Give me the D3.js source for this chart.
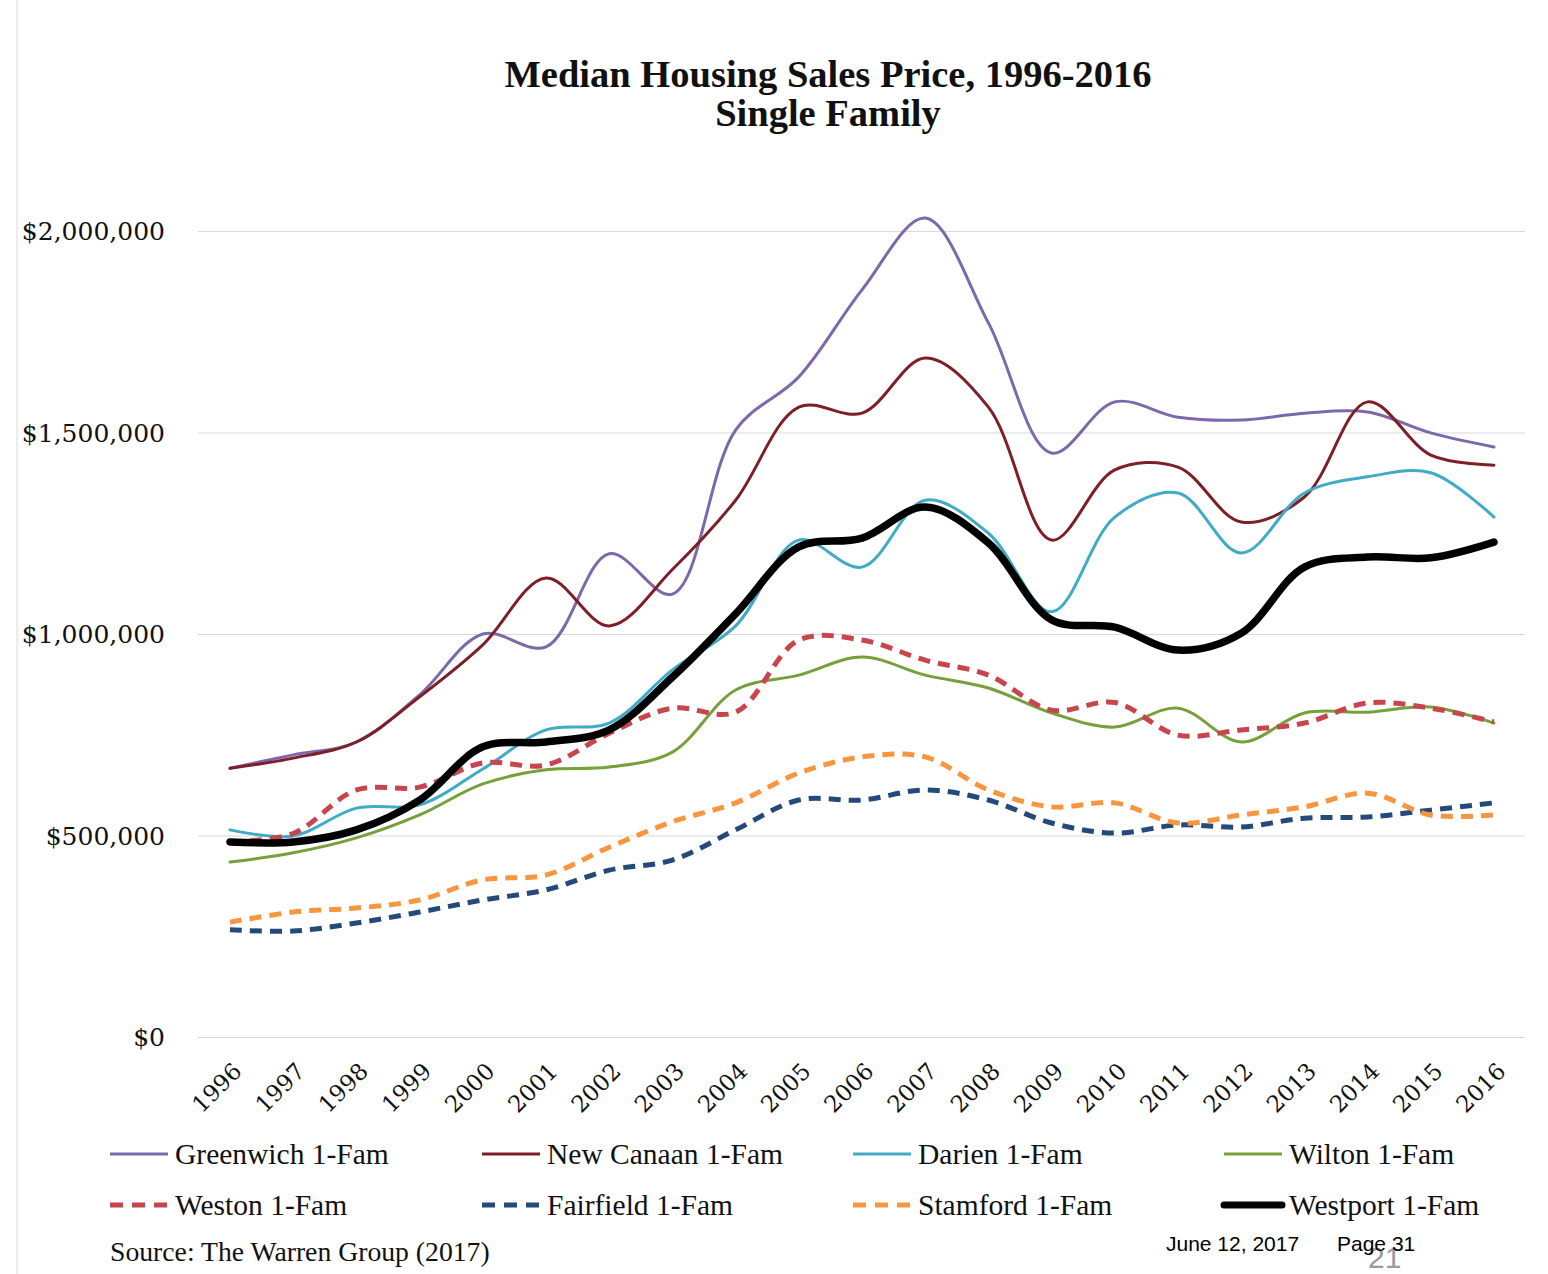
<!DOCTYPE html>
<html><head><meta charset="utf-8">
<script src="https://cdn.jsdelivr.net/npm/d3@7"></script>
<style>body{margin:0;background:#fff}</style>
</head><body>
<svg id="c" width="1548" height="1274"></svg>
<script>
const years = d3.range(1996, 2017);
const yTicks = [0, 500000, 1000000, 1500000, 2000000];
const greenwich = [667,700,732,849,1000,968,1199,1099,1506,1638,1854,2032,1772,1449,1576,1538,1531,1548,1551,1499,1464];
const newCanaan = [667,692,732,844,973,1139,1020,1160,1332,1563,1548,1685,1563,1233,1407,1414,1278,1340,1576,1444,1419];
const darien    = [514,499,568,576,665,762,779,911,1020,1233,1166,1332,1250,1055,1290,1350,1201,1350,1390,1400,1290];
const wilton    = [434,457,494,551,628,663,670,707,861,898,943,898,866,804,769,816,732,804,806,819,779];
const weston    = [485,505,613,620,680,675,754,816,806,985,985,935,898,811,830,749,762,779,829,816,782];
const fairfield = [266,263,283,310,340,365,414,439,514,588,588,613,588,531,506,526,521,543,546,563,581];
const stamford  = [285,310,320,340,390,402,471,534,581,655,695,695,613,571,581,531,551,571,605,551,551];
const westport  = [484,484,514,588,720,732,762,893,1050,1216,1238,1315,1226,1035,1017,960,1002,1166,1191,1189,1228];
const seriesNames = ["Greenwich 1-Fam","New Canaan 1-Fam","Darien 1-Fam","Wilton 1-Fam","Weston 1-Fam","Fairfield 1-Fam","Stamford 1-Fam","Westport 1-Fam"];
const seriesData = [greenwich,newCanaan,darien,wilton,weston,fairfield,stamford,westport];
const colors = ["#7c68aa","#7e1f27","#3fabc6","#76a03a","#c9454d","#24497a","#f7963f","#000000"];
const dashed = [false,false,false,false,true,true,true,false];
const widths = [3,3,3,3,5,5,5,7.5];

const svg = d3.select("#c");
const serif = "'DejaVu Serif', serif";
const cond = "'Liberation Serif', serif";

// faint page border
svg.append("line").attr("x1",17).attr("x2",17).attr("y1",0).attr("y2",1274).attr("stroke","#e6e6e6").attr("stroke-width",1.5);

const x = d3.scalePoint().domain(years).range([230,1494]);
const y = d3.scaleLinear().domain([0,2000000]).range([1037,231]);

// title
svg.append("text").attr("x",828).attr("y",87).attr("text-anchor","middle")
  .attr("font-family",cond).attr("font-weight","bold").attr("font-size",38.5).attr("fill","#111")
  .text("Median Housing Sales Price, 1996-2016");
svg.append("text").attr("x",828).attr("y",126).attr("text-anchor","middle")
  .attr("font-family",cond).attr("font-weight","bold").attr("font-size",38.5).attr("fill","#111")
  .text("Single Family");

// grid + y axis
const yAxis = d3.axisLeft(y).tickValues(yTicks).tickSize(-(1525-198))
  .tickFormat(d => d3.format("$,")(d));
const gy = svg.append("g").attr("transform","translate(198,0)").call(yAxis);
gy.select(".domain").remove();
gy.selectAll(".tick line").attr("stroke","#d9d9d9").attr("stroke-width",1.2);
gy.selectAll(".tick text").attr("x",-33).attr("dy","0.35em")
  .attr("font-family",serif).attr("font-size",25).attr("fill","#111");

// x axis
const xAxis = d3.axisBottom(x).tickSize(0);
const gx = svg.append("g").attr("transform","translate(0,1045)").call(xAxis);
gx.select(".domain").remove();
gx.selectAll(".tick text").attr("text-anchor","end")
  .attr("transform","translate(7,22) rotate(-45)")
  .attr("dy","0.35em").attr("y",0)
  .attr("font-family",serif).attr("font-size",23).attr("fill","#111");

// lines
const line = d3.line().x((d,i)=>x(years[i])).y(d=>y(d*1000)).curve(d3.curveCatmullRom.alpha(0.5));
seriesData.forEach((s,k)=>{
  svg.append("path").datum(s).attr("d",line).attr("fill","none")
    .attr("stroke",colors[k]).attr("stroke-width",widths[k])
    .attr("stroke-dasharray",dashed[k]?"12,8":null)
    .attr("stroke-linejoin","round").attr("stroke-linecap",dashed[k]?"butt":"round");
});

// legend
const legX = [110,482,853,1224];
const legY = [1154,1205];
seriesNames.forEach((n,k)=>{
  const lx = legX[k%4], ly = legY[Math.floor(k/4)];
  svg.append("line").attr("x1",lx).attr("x2",lx+58).attr("y1",ly).attr("y2",ly)
    .attr("stroke",colors[k]).attr("stroke-width",k===7?7:(dashed[k]?5:3))
    .attr("stroke-dasharray",dashed[k]?"13,9":null)
    .attr("stroke-linecap",k===7?"round":"butt");
  svg.append("text").attr("x",lx+65).attr("y",ly+10)
    .attr("font-family",cond).attr("font-size",29.5).attr("fill","#111").text(n);
});

svg.append("text").attr("x",110).attr("y",1261).attr("font-family",cond).attr("font-size",27.7).attr("fill","#111")
  .text("Source: The Warren Group (2017)");
svg.append("text").attr("x",1368).attr("y",1268).attr("font-family","'Liberation Sans', Arial, sans-serif")
  .attr("font-size",30).attr("fill","#9a9a9a").text("21");
svg.append("text").attr("x",1166).attr("y",1251).attr("font-family","'Liberation Sans', Arial, sans-serif")
  .attr("font-size",21).attr("fill","#000").text("June 12, 2017");
svg.append("text").attr("x",1337).attr("y",1251).attr("font-family","'Liberation Sans', Arial, sans-serif")
  .attr("font-size",21).attr("fill","#000").text("Page 31");
</script>
</body></html>
